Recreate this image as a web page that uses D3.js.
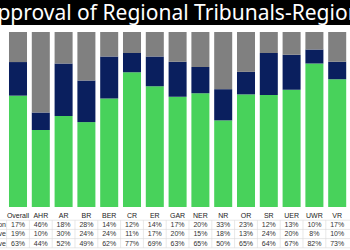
<!DOCTYPE html>
<html>
<head>
<meta charset="utf-8">
<script src="https://cdn.jsdelivr.net/npm/d3@7"></script>
<style>
  html, body { margin: 0; padding: 0; background: #fff; overflow: hidden; }
</style>
</head>
<body>
<div id="body"></div>
<script>
// data
var regions = ["Overall", "AHR", "AR", "BR", "BER", "CR", "ER", "GAR", "NER", "NR", "OR", "SR", "UER", "UWR", "VR"];
var seriesNames = ["No opinion", "Disapprove", "Approve"];
var noOpinion = [17, 46, 18, 28, 14, 12, 14, 17, 20, 33, 23, 12, 13, 10, 17];
var disapprove = [19, 10, 30, 24, 24, 11, 17, 20, 15, 18, 13, 24, 20, 8, 10];
var approve = [63, 44, 52, 49, 62, 77, 69, 63, 65, 50, 65, 64, 67, 82, 73];
var title = "Approval of Regional Tribunals-Region";

var width = 350, height = 250;
var colors = { "Approve": "#48d25b", "Disapprove": "#0a1f5e", "No opinion": "#808080" };

var rows = regions.map(function (r, i) {
  return { region: r, "Approve": approve[i], "Disapprove": disapprove[i], "No opinion": noOpinion[i] };
});

var svg = d3.select("#body").append("svg")
  .attr("width", width).attr("height", height)
  .style("font-family", "Liberation Sans, Arial, sans-serif");

// title band
svg.append("rect").attr("x", 0).attr("y", 0).attr("width", width).attr("height", 25).attr("fill", "#000");
svg.append("text")
  .attr("x", -16).attr("y", 20)
  .attr("fill", "#fff")
  .style("font-family", "Noto Sans, sans-serif")
  .style("font-size", "21px")
  .text(title);

// scales
var xScale = d3.scaleBand().domain(regions).range([6.6, 348.6]).paddingInner(0.21).paddingOuter(0.105);
var yScale = d3.scaleLinear().domain([0, 1]).range([207, 32]);

var stack = d3.stack().keys(["Approve", "Disapprove", "No opinion"]).offset(d3.stackOffsetExpand);
var layers = stack(rows);

svg.append("g").selectAll("g").data(layers).enter().append("g")
  .attr("fill", function (d) { return colors[d.key]; })
  .selectAll("rect").data(function (d) { return d; }).enter().append("rect")
  .attr("x", function (d) { return xScale(d.data.region); })
  .attr("y", function (d) { return yScale(d[1]); })
  .attr("width", xScale.bandwidth())
  .attr("height", function (d) { return yScale(d[0]) - yScale(d[1]); });

// table below
var step = xScale.step();
var tableTop = 211, rowH = 9.2;
var table = svg.append("g");
var tableRows = [
  { label: "", values: regions },
  { label: seriesNames[0], values: noOpinion.map(function (v) { return v + "%"; }) },
  { label: seriesNames[1], values: disapprove.map(function (v) { return v + "%"; }) },
  { label: seriesNames[2], values: approve.map(function (v) { return v + "%"; }) }
];

// grid lines
for (var j = 1; j <= tableRows.length; j++) {
  table.append("line")
    .attr("x1", 0).attr("x2", width)
    .attr("y1", tableTop + j * rowH).attr("y2", tableTop + j * rowH)
    .attr("stroke", "#d9d9d9").attr("stroke-width", 0.6);
}
regions.forEach(function (r, i) {
  var xl = xScale(r) + xScale.bandwidth() / 2 - step / 2;
  table.append("line")
    .attr("x1", xl).attr("x2", xl)
    .attr("y1", tableTop + rowH).attr("y2", tableTop + 4 * rowH)
    .attr("stroke", "#d9d9d9").attr("stroke-width", 0.6);
});

tableRows.forEach(function (row, j) {
  var cy = tableTop + j * rowH + rowH / 2 + 2.4;
  table.append("text")
    .attr("x", 6).attr("y", cy)
    .attr("text-anchor", "end")
    .style("font-size", "7px").attr("fill", "#333")
    .text(row.label);
  table.selectAll(null).data(row.values).enter().append("text")
    .attr("x", function (d, i) { return xScale(regions[i]) + xScale.bandwidth() / 2; })
    .attr("y", cy)
    .attr("text-anchor", "middle")
    .style("font-size", "7px")
    .attr("fill", j === 0 ? "#222" : "#333")
    .text(function (d) { return d; });
});
</script>
</body>
</html>
